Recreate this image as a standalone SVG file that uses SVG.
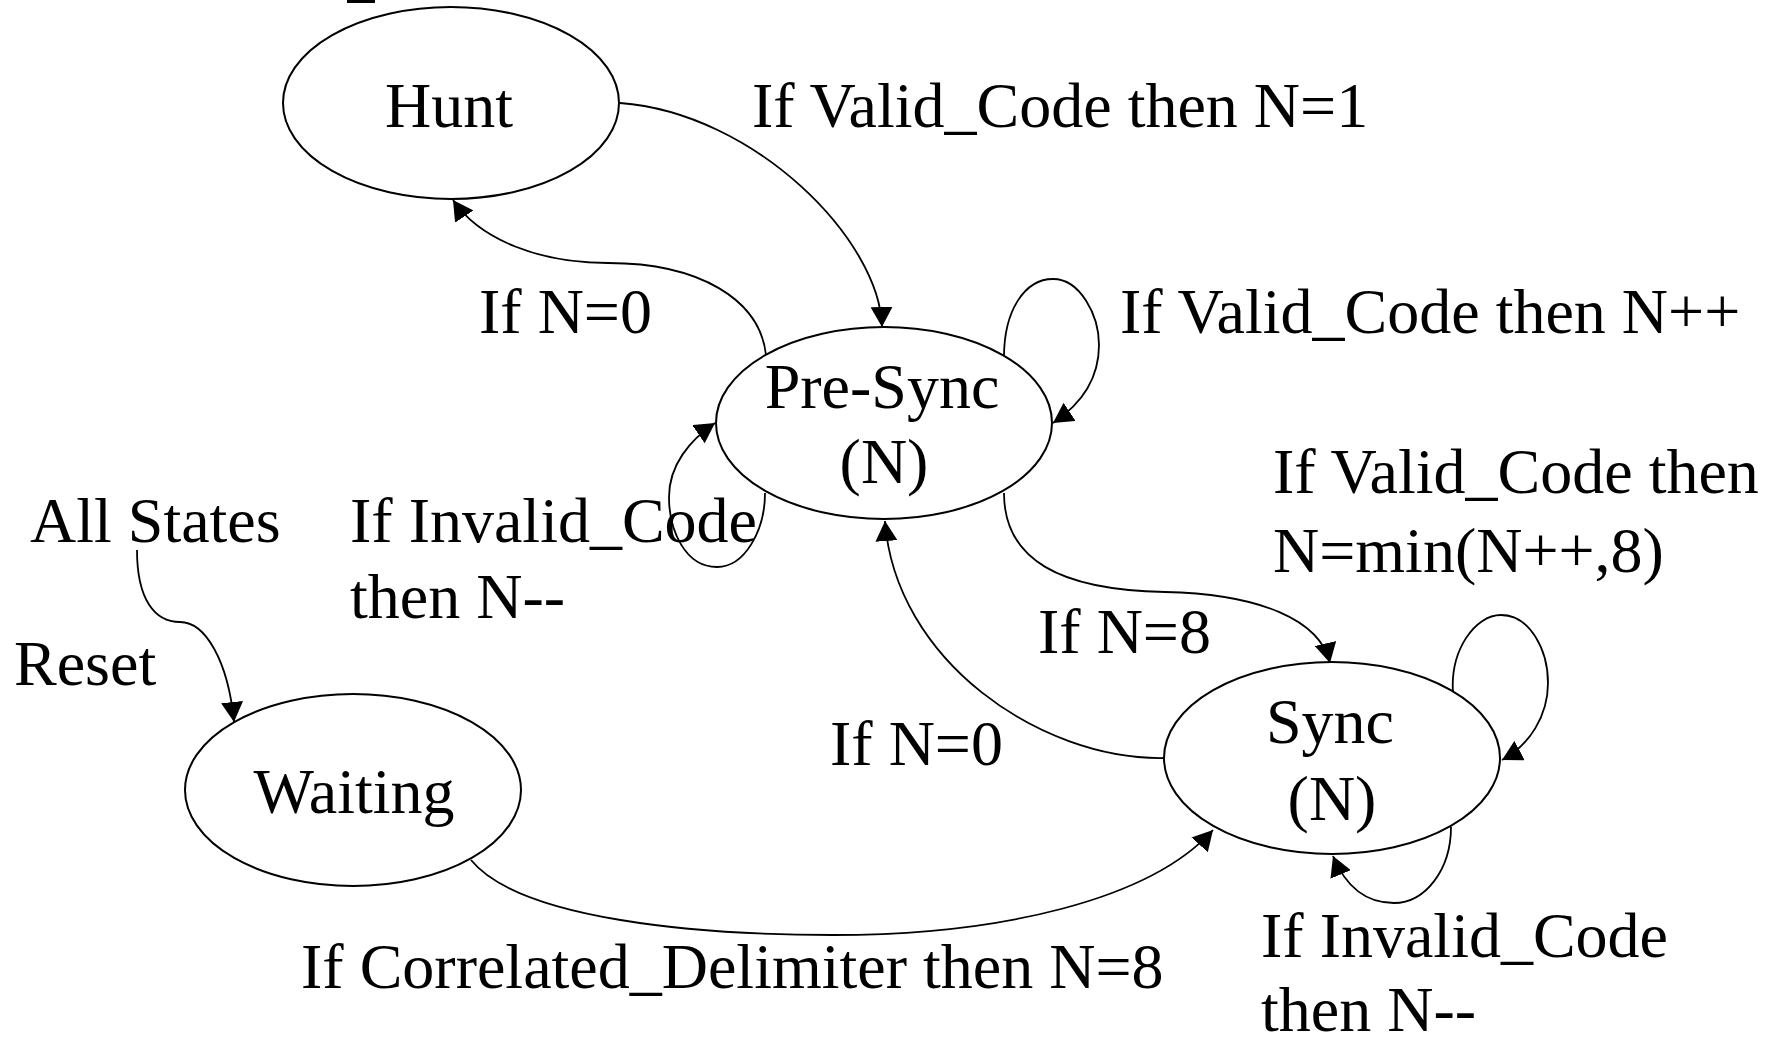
<svg xmlns="http://www.w3.org/2000/svg" width="1785" height="1038" viewBox="0 0 1785 1038">
  <style>
    .state { fill: #ffffff; stroke: #000000; stroke-width: 2; }
    .label { font-family: "Liberation Serif", "Times New Roman", serif; font-size: 64px; fill: #000000; }
    .mid { text-anchor: middle; }
    .edge { fill: none; stroke: #000000; stroke-width: 1.8; marker-end: url(#arrow); }
  </style>
  <defs>
    <marker id="arrow" viewBox="0 0 20 22" refX="20" refY="11" markerWidth="20" markerHeight="22" markerUnits="userSpaceOnUse" orient="auto">
      <path d="M0,0 L20,11 L0,22 z" fill="#000000"/>
    </marker>
  </defs>
  <rect width="1785" height="1038" fill="#ffffff"/>

  <!-- clipped glyph stub at the top edge -->
  <rect x="347" y="0" width="28" height="3" fill="#000000"/>

  <g id="connectors">
    <!-- Hunt -> Pre-Sync -->
    <path class="edge" d="M620,103 C755,113 880,240 882,327"/>
    <!-- Pre-Sync -> Hunt -->
    <path class="edge" d="M766,355 C760,300 700,263 608,263 C540,263 480,240 453,200"/>
    <!-- Pre-Sync self loop (valid code) -->
    <path class="edge" d="M1004,357 C1004,310 1025,279 1053,279 C1080,279 1099,315 1099,345 C1099,380 1080,405 1053,423"/>
    <!-- Pre-Sync self loop (invalid code) -->
    <path class="edge" d="M765,493 C765,530 745,567 717,567 C685,567 669,530 669,497 C669,465 690,440 715,423"/>
    <!-- Pre-Sync -> Sync -->
    <path class="edge" d="M1004,493 C1004,560 1060,590 1165,592 C1260,594 1320,620 1330,663"/>
    <!-- Sync -> Pre-Sync -->
    <path class="edge" d="M1164,758 C1040,760 895,660 885,521"/>
    <!-- Sync self loop (valid code) -->
    <path class="edge" d="M1453,693 C1450,650 1475,615 1501,615 C1530,615 1548,650 1548,683 C1548,715 1530,745 1502,760"/>
    <!-- Sync self loop (invalid code) -->
    <path class="edge" d="M1451,827 C1451,870 1425,903 1394,903 C1365,903 1345,885 1333,856"/>
    <!-- Waiting -> Sync -->
    <path class="edge" d="M471,860 C520,920 700,935 833,935 C1000,935 1150,900 1213,830"/>
    <!-- Reset from all states -> Waiting -->
    <path class="edge" d="M137,550 C137,600 155,622 180,622 C205,622 228,660 234,722"/>
  </g>

  <g id="hunt">
    <ellipse class="state" cx="451" cy="103" rx="168" ry="96"/>
    <text class="label mid" x="449" y="127">Hunt</text>
  </g>
  <g id="pre-sync">
    <ellipse class="state" cx="884" cy="423" rx="168" ry="96"/>
    <text class="label mid" x="882" y="408">Pre-Sync</text>
    <text class="label mid" x="884" y="483">(N)</text>
  </g>
  <g id="sync">
    <ellipse class="state" cx="1332" cy="758" rx="168" ry="96"/>
    <text class="label mid" x="1330" y="743">Sync</text>
    <text class="label mid" x="1332" y="820">(N)</text>
  </g>
  <g id="waiting">
    <ellipse class="state" cx="353" cy="790" rx="168" ry="96"/>
    <text class="label mid" x="354" y="813">Waiting</text>
  </g>

  <g id="labels">
    <text class="label" x="752" y="127">If Valid_Code then N=1</text>
    <text class="label" x="479" y="333">If N=0</text>
    <text class="label" x="1120" y="333">If Valid_Code then N++</text>
    <text class="label" x="1273" y="493">If Valid_Code then</text>
    <text class="label" x="1273" y="572">N=min(N++,8)</text>
    <text class="label" x="30" y="542">All States</text>
    <text class="label" x="350" y="542">If Invalid_Code</text>
    <text class="label" x="350" y="618">then N--</text>
    <text class="label" x="14" y="685">Reset</text>
    <text class="label" x="1038" y="653">If N=8</text>
    <text class="label" x="830" y="765">If N=0</text>
    <text class="label" x="301" y="988">If Correlated_Delimiter then N=8</text>
    <text class="label" x="1261" y="957">If Invalid_Code</text>
    <text class="label" x="1261" y="1031">then N--</text>
  </g>
</svg>
